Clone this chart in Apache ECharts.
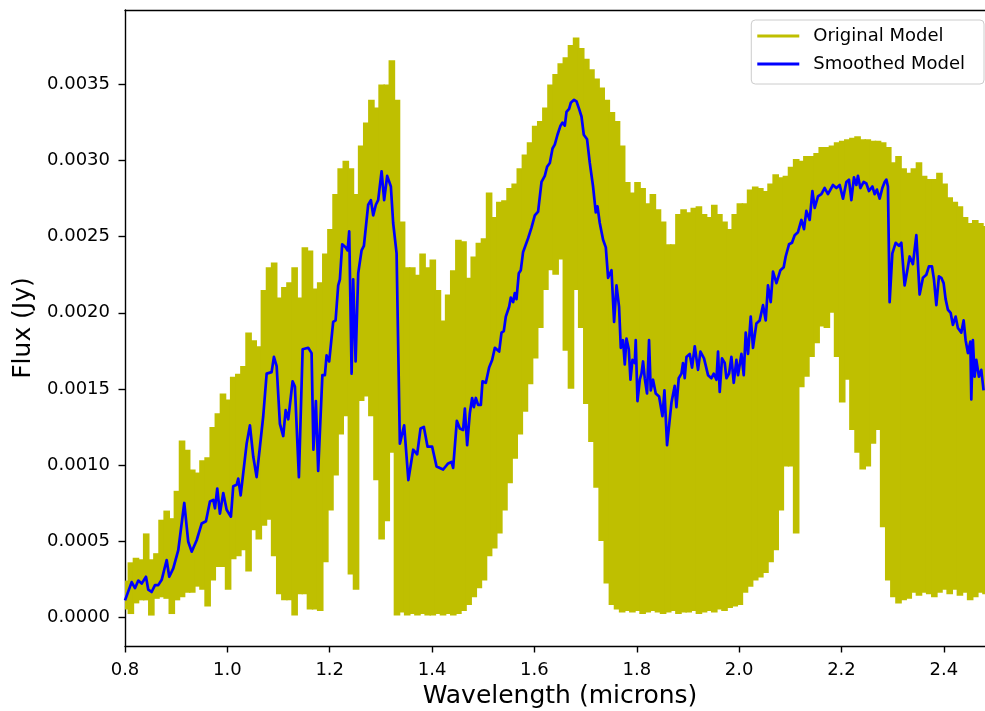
<!DOCTYPE html>
<html>
<head>
<meta charset="utf-8">
<script src="https://cdn.jsdelivr.net/npm/echarts@6/dist/echarts.min.js"></script>
<style>
  html, body { margin: 0; padding: 0; background: #ffffff; }
  #chart { width: 985px; height: 711px; }
</style>
</head>
<body>
<div id="chart"></div>
<script>
// Model spectrum of a brown dwarf, flux in units of 1e-4 Jy.
const FLUX_UNIT = 1e-4;

// Original (unsmoothed) model: upper and lower envelope of the dense line
// forest, sampled every 0.01 micron from 0.80 to 2.48 micron.
const WL_START = 0.80;
const WL_STEP = 0.01;
const upperFlux = [
  2.4, 3.6, 3.9, 3.8, 5.5, 3.8, 4.2, 6.4, 7.0, 6.5,
  8.3, 11.6, 11.0, 9.7, 9.5, 10.3, 10.5, 12.5, 13.4, 14.7,
  14.3, 15.8, 16.0, 16.5, 18.7, 18.2, 17.8, 21.5, 23.0, 23.3,
  21.0, 21.7, 22.0, 23.0, 21.0, 24.3, 24.1, 21.6, 22.0, 23.9,
  25.5, 27.8, 29.5, 30.0, 29.5, 27.8, 31.0, 32.5, 34.0, 33.5,
  35.0, 35.0, 36.6, 34.0, 26.0, 23.0, 23.0, 22.5, 23.9, 23.0,
  23.5, 21.5, 19.5, 21.2, 22.8, 24.8, 24.7, 22.3, 23.7, 24.6,
  24.9, 27.9, 26.3, 27.3, 27.4, 28.2, 28.5, 29.5, 30.4, 31.2,
  32.3, 32.6, 33.5, 35.0, 35.7, 36.4, 36.8, 37.6, 38.1, 37.4,
  36.7, 36.0, 35.4, 34.8, 34.0, 33.2, 32.6, 31.0, 28.6, 27.9,
  28.6, 28.2, 27.2, 27.8, 26.8, 26.0, 24.5, 24.5, 26.5, 26.8,
  26.6, 26.9, 27.0, 26.5, 26.3, 27.1, 26.5, 26.0, 25.5, 26.5,
  27.2, 27.2, 28.1, 28.3, 28.2, 28.0, 28.5, 29.1, 28.9, 29.0,
  29.6, 30.1, 30.0, 30.3, 30.3, 30.5, 30.9, 30.9, 31.0, 31.2,
  31.3, 31.4, 31.5, 31.6, 31.4, 31.4, 31.3, 31.3, 31.2, 30.9,
  29.9, 30.3, 29.5, 29.2, 29.5, 29.9, 29.0, 28.8, 28.8, 29.2,
  28.5, 27.6, 27.3, 27.0, 26.3, 25.9, 26.1, 25.9, 25.7
];
const lowerFlux = [
  0.5, 0.2, 0.9, 1.1, 1.1, 0.1, 1.2, 1.3, 1.2, 0.2,
  1.1, 1.3, 1.6, 1.6, 2.0, 1.8, 0.7, 2.4, 3.3, 3.3,
  1.8, 3.8, 4.0, 4.4, 3.0, 5.7, 5.1, 6.0, 6.4, 4.0,
  1.5, 1.1, 1.1, 0.1, 1.5, 1.5, 0.5, 0.5, 0.4, 3.6,
  7.0, 9.3, 12.0, 13.2, 2.8, 1.8, 14.2, 14.5, 13.2, 9.0,
  5.1, 6.3, 10.8, 0.1, 0.3, 0.1, 0.2, 0.1, 0.2, 0.1,
  0.1, 0.2, 0.1, 0.2, 0.1, 0.2, 0.4, 0.8, 1.3, 1.9,
  2.4, 4.0, 4.5, 5.5, 7.0, 8.8, 10.4, 12.0, 13.5, 15.3,
  17.0, 19.0, 21.5, 22.8, 22.5, 23.5, 17.5, 15.0, 21.5, 19.0,
  14.0, 11.5, 8.5, 5.0, 2.2, 0.8, 0.5, 0.3, 0.4, 0.3,
  0.4, 0.2, 0.3, 0.4, 0.3, 0.2, 0.3, 0.4, 0.2, 0.3,
  0.3, 0.4, 0.2, 0.3, 0.4, 0.3, 0.5, 0.4, 0.6, 0.7,
  0.8, 1.6, 2.0, 2.4, 2.6, 2.9, 3.6, 4.4, 7.0, 9.9,
  9.9, 5.5, 15.1, 15.8, 17.1, 18.0, 19.1, 19.0, 20.0, 17.1,
  14.1, 15.6, 12.3, 10.8, 9.7, 9.9, 11.4, 12.3, 5.9, 2.4,
  1.3, 0.9, 1.1, 1.2, 1.6, 1.4, 1.6, 1.5, 1.3, 1.6,
  1.8, 1.5, 1.8, 1.4, 1.6, 1.1, 1.3, 1.6, 1.5
];

// Smoothed model.
const smoothWl = [
  0.8000, 0.8130, 0.8195, 0.8260, 0.8326, 0.8410, 0.8455, 0.8520, 0.8586, 0.8650,
  0.8717, 0.8814, 0.8865, 0.8943, 0.9041, 0.9158, 0.9236, 0.9303, 0.9400, 0.9498,
  0.9582, 0.9660, 0.9725, 0.9758, 0.9803, 0.9855, 0.9920, 0.9986, 1.0070, 1.0115,
  1.0182, 1.0213, 1.0260, 1.0377, 1.0441, 1.0506, 1.0572, 1.0701, 1.0768, 1.0865,
  1.0910, 1.0963, 1.1027, 1.1092, 1.1139, 1.1190, 1.1275, 1.1320, 1.1398, 1.1471,
  1.1580, 1.1646, 1.1682, 1.1730, 1.1775, 1.1857, 1.1906, 1.1939, 1.1990, 1.2068,
  1.2115, 1.2166, 1.2199, 1.2244, 1.2311, 1.2350, 1.2381, 1.2428, 1.2459, 1.2506,
  1.2557, 1.2623, 1.2668, 1.2752, 1.2805, 1.2850, 1.2902, 1.2947, 1.3014, 1.3064,
  1.3123, 1.3195, 1.3240, 1.3307, 1.3371, 1.3455, 1.3537, 1.3631, 1.3709, 1.3775,
  1.3840, 1.3912, 1.4002, 1.4088, 1.4217, 1.4314, 1.4380, 1.4412, 1.4484, 1.4543,
  1.4607, 1.4641, 1.4686, 1.4738, 1.4783, 1.4816, 1.4855, 1.4900, 1.4953, 1.4986,
  1.5051, 1.5115, 1.5174, 1.5227, 1.5311, 1.5357, 1.5402, 1.5441, 1.5506, 1.5539,
  1.5584, 1.5617, 1.5650, 1.5695, 1.5734, 1.5779, 1.5877, 1.5943, 1.6008, 1.6072,
  1.6139, 1.6203, 1.6248, 1.6301, 1.6354, 1.6398, 1.6451, 1.6510, 1.6549, 1.6594,
  1.6627, 1.6678, 1.6711, 1.6775, 1.6822, 1.6873, 1.6920, 1.6965, 1.7029, 1.7082,
  1.7146, 1.7199, 1.7232, 1.7277, 1.7342, 1.7395, 1.7440, 1.7506, 1.7557, 1.7604,
  1.7654, 1.7688, 1.7732, 1.7766, 1.7799, 1.7844, 1.7877, 1.7916, 1.7961, 1.7980,
  1.8014, 1.8059, 1.8092, 1.8123, 1.8156, 1.8201, 1.8240, 1.8273, 1.8318, 1.8371,
  1.8436, 1.8502, 1.8541, 1.8592, 1.8678, 1.8742, 1.8775, 1.8820, 1.8873, 1.8904,
  1.8937, 1.8971, 1.9035, 1.9080, 1.9133, 1.9197, 1.9244, 1.9314, 1.9393, 1.9459,
  1.9504, 1.9557, 1.9588, 1.9621, 1.9666, 1.9719, 1.9752, 1.9803, 1.9849, 1.9895,
  1.9947, 1.9979, 2.0045, 2.0090, 2.0129, 2.0174, 2.0227, 2.0271, 2.0338, 2.0402,
  2.0467, 2.0520, 2.0564, 2.0617, 2.0662, 2.0729, 2.0807, 2.0871, 2.0910, 2.0975,
  2.1033, 2.1086, 2.1150, 2.1217, 2.1268, 2.1314, 2.1379, 2.1432, 2.1477, 2.1541,
  2.1607, 2.1672, 2.1736, 2.1769, 2.1834, 2.1900, 2.1965, 2.2030, 2.2096, 2.2146,
  2.2193, 2.2244, 2.2291, 2.2322, 2.2369, 2.2434, 2.2486, 2.2537, 2.2604, 2.2648,
  2.2693, 2.2746, 2.2799, 2.2844, 2.2877, 2.2908, 2.2941, 2.2994, 2.3059, 2.3123,
  2.3170, 2.3234, 2.3287, 2.3332, 2.3396, 2.3463, 2.3527, 2.3592, 2.3658, 2.3709,
  2.3768, 2.3807, 2.3854, 2.3904, 2.3951, 2.3996, 2.4035, 2.4080, 2.4133, 2.4178,
  2.4230, 2.4275, 2.4342, 2.4387, 2.4426, 2.4471, 2.4518, 2.4537, 2.4568, 2.4602,
  2.4635, 2.4686, 2.4732, 2.4777
];
const smoothFlux = [
  1.1, 2.3, 1.9, 2.4, 2.2, 2.65, 1.8, 1.65, 2.1, 2.1,
  2.45, 3.75, 2.65, 3.2, 4.4, 7.5, 4.95, 4.3, 5.05, 6.15,
  6.3, 7.6, 7.7, 7.15, 8.45, 6.8, 8.15, 7.05, 6.6, 8.6,
  8.7, 9.1, 8.0, 11.4, 12.6, 10.55, 9.2, 13.2, 16.0, 16.1,
  17.1, 16.5, 12.7, 11.9, 13.6, 13.0, 15.5, 15.15, 9.2, 17.6,
  17.7, 17.35, 11.0, 14.2, 9.6, 15.9, 15.9, 17.2, 16.8, 19.4,
  19.5, 21.8, 22.2, 24.5, 24.3, 24.1, 25.35, 16.0, 22.2, 16.8,
  22.6, 24.1, 24.4, 27.1, 27.4, 26.4, 27.1, 27.4, 29.3, 27.4,
  29.0, 28.3, 25.9, 23.9, 11.4, 12.6, 9.0, 11.0, 10.7, 12.4,
  12.5, 11.2, 11.2, 9.9, 9.7, 10.1, 10.2, 9.8, 12.9, 12.4,
  12.3, 13.7, 11.3, 13.4, 14.4, 13.8, 14.4, 13.95, 13.95, 15.5,
  15.4, 16.4, 16.9, 17.7, 17.45, 18.7, 18.8, 19.75, 20.4, 21.0,
  20.7, 21.3, 20.9, 22.6, 22.8, 24.0, 24.9, 25.6, 26.4, 26.65,
  28.6, 29.0, 29.6, 29.85, 30.8, 31.05, 31.7, 32.3, 32.5, 32.3,
  33.2, 33.4, 33.8, 34.0, 33.9, 33.4, 32.9, 31.7, 31.4, 29.85,
  28.3, 26.6, 27.0, 25.9, 24.8, 24.3, 22.3, 22.8, 19.4, 21.8,
  20.4, 17.7, 18.2, 16.6, 18.3, 17.6, 15.6, 16.9, 16.7, 18.2,
  14.2, 15.6, 16.0, 16.8, 15.7, 14.7, 18.2, 14.9, 15.6, 14.7,
  14.5, 13.2, 14.9, 11.3, 14.1, 15.2, 13.8, 15.7, 16.0, 16.7,
  15.7, 17.1, 17.3, 16.4, 17.8, 16.25, 17.45, 17.0, 15.9, 15.7,
  16.0, 15.6, 17.45, 14.8, 17.0, 16.7, 15.7, 16.0, 17.1, 15.4,
  16.9, 15.9, 17.3, 15.9, 18.7, 17.3, 19.75, 17.7, 19.3, 19.5,
  20.5, 19.5, 21.8, 20.7, 22.7, 21.95, 22.8, 23.0, 23.7, 24.5,
  24.6, 25.1, 25.3, 26.1, 25.5, 26.7, 26.1, 28.0, 26.9, 27.65,
  27.8, 28.2, 27.8, 27.9, 28.4, 28.2, 28.4, 27.5, 28.6, 28.75,
  27.4, 28.9, 28.4, 29.0, 28.2, 28.6, 28.5, 28.0, 28.3, 27.8,
  28.1, 27.5, 28.2, 28.6, 28.75, 28.3, 20.7, 23.9, 24.6, 24.4,
  24.6, 21.8, 22.8, 23.7, 23.2, 25.1, 21.2, 22.3, 22.5, 23.05,
  23.05, 22.2, 20.5, 22.4, 22.3, 21.95, 20.9, 20.2, 20.0, 19.2,
  19.75, 19.0, 18.7, 19.5, 18.2, 17.35, 18.1, 14.3, 18.2, 15.8,
  16.9, 15.8, 16.25, 14.9
];

// Axis tick positions.
const xTicks = [0.8, 1.0, 1.2, 1.4, 1.6, 1.8, 2.0, 2.2, 2.4];
const yTicks = [0, 0.0005, 0.001, 0.0015, 0.002, 0.0025, 0.003, 0.0035];

// Each envelope cell: [centre wavelength, lower flux, upper flux].
const originalData = upperFlux.map((hi, i) => [
  WL_START + i * WL_STEP,
  lowerFlux[i] * FLUX_UNIT,
  hi * FLUX_UNIT
]);
const smoothData = smoothWl.map((wl, i) => [wl, smoothFlux[i] * FLUX_UNIT]);

const FONT = 'DejaVu Sans';
const AXIS_COLOR = '#000000';
const YELLOW = '#bfbf00';
const BLUE = '#0000ff';

// The line forest is so dense that it reads as a solid band: each cell is
// filled from its lower to its upper envelope value. Cells overlap slightly
// so no hairline seams show between neighbours.
function renderEnvelopeCell(params, api) {
  const wl = api.value(0);
  const topLeft = api.coord([wl - WL_STEP / 2, api.value(2)]);
  const bottomRight = api.coord([wl + WL_STEP / 2, api.value(1)]);
  const rect = echarts.graphic.clipRectByRect(
    {
      x: topLeft[0],
      y: topLeft[1],
      width: bottomRight[0] - topLeft[0] + 1.5,
      height: bottomRight[1] - topLeft[1]
    },
    {
      x: params.coordSys.x,
      y: params.coordSys.y,
      width: params.coordSys.width,
      height: params.coordSys.height
    }
  );
  return rect && {
    type: 'rect',
    shape: rect,
    style: { fill: YELLOW }
  };
}

const chart = echarts.init(document.getElementById('chart'), null, { renderer: 'canvas' });

chart.setOption({
  animation: false,
  backgroundColor: '#ffffff',
  // The plot area runs past the right edge of the canvas; keep it exactly
  // where it is placed instead of letting it shrink to fit.
  grid: { left: 125, right: -10, top: 10, bottom: 65, containLabel: false, outerBoundsMode: 'none' },
  legend: {
    orient: 'vertical',
    right: 1,
    top: 20,
    data: ['Original Model', 'Smoothed Model'],
    icon: 'rect',
    itemWidth: 42,
    itemHeight: 3,
    itemGap: 8,
    padding: [6, 19, 10, 6],
    backgroundColor: 'rgba(255,255,255,0.8)',
    borderColor: '#cccccc',
    borderWidth: 1,
    borderRadius: 4,
    textStyle: { fontFamily: FONT, fontSize: 18, color: '#000', lineHeight: 20, padding: [0, 0, 0, 9] }
  },
  xAxis: [
    {
      type: 'value',
      min: 0.8,
      max: 2.5,
      position: 'bottom',
      name: 'Wavelength (microns)',
      nameLocation: 'middle',
      nameGap: 37,
      nameTextStyle: { fontFamily: FONT, fontSize: 25, color: '#000' },
      axisLine: { show: true, onZero: false, lineStyle: { color: AXIS_COLOR, width: 1.4 } },
      axisTick: { show: true, inside: false, length: 6.5, customValues: xTicks, lineStyle: { color: AXIS_COLOR, width: 1.4 } },
      axisLabel: { customValues: xTicks, formatter: v => v.toFixed(1), fontFamily: FONT, fontSize: 18, color: '#000', margin: 15 },
      splitLine: { show: false }
    },
    {
      type: 'value',
      min: 0.8,
      max: 2.5,
      position: 'top',
      axisLine: { show: true, onZero: false, lineStyle: { color: AXIS_COLOR, width: 1.4 } },
      axisTick: { show: false },
      axisLabel: { show: false },
      splitLine: { show: false }
    }
  ],
  yAxis: {
    type: 'value',
    min: -0.00019,
    max: 0.00399,
    name: 'Flux (Jy)',
    nameLocation: 'middle',
    nameGap: 86,
    nameRotate: 90,
    nameTextStyle: { fontFamily: FONT, fontSize: 25, color: '#000' },
    axisLine: { show: true, onZero: false, lineStyle: { color: AXIS_COLOR, width: 1.4 } },
    axisTick: { show: true, inside: false, length: 6.5, customValues: yTicks, lineStyle: { color: AXIS_COLOR, width: 1.4 } },
    axisLabel: { customValues: yTicks, formatter: v => v.toFixed(4), fontFamily: FONT, fontSize: 18, color: '#000', margin: 15 },
    splitLine: { show: false }
  },
  series: [
    {
      name: 'Original Model',
      type: 'custom',
      xAxisIndex: 0,
      data: originalData,
      encode: { x: 0, y: [1, 2] },
      renderItem: renderEnvelopeCell,
      color: YELLOW,
      itemStyle: { color: YELLOW },
      silent: true,
      z: 2
    },
    {
      name: 'Smoothed Model',
      type: 'line',
      xAxisIndex: 0,
      data: smoothData,
      symbol: 'none',
      showSymbol: false,
      color: BLUE,
      itemStyle: { color: BLUE },
      lineStyle: { color: BLUE, width: 2.7, join: 'round' },
      silent: true,
      clip: true,
      z: 3
    }
  ]
});
</script>
</body>
</html>
